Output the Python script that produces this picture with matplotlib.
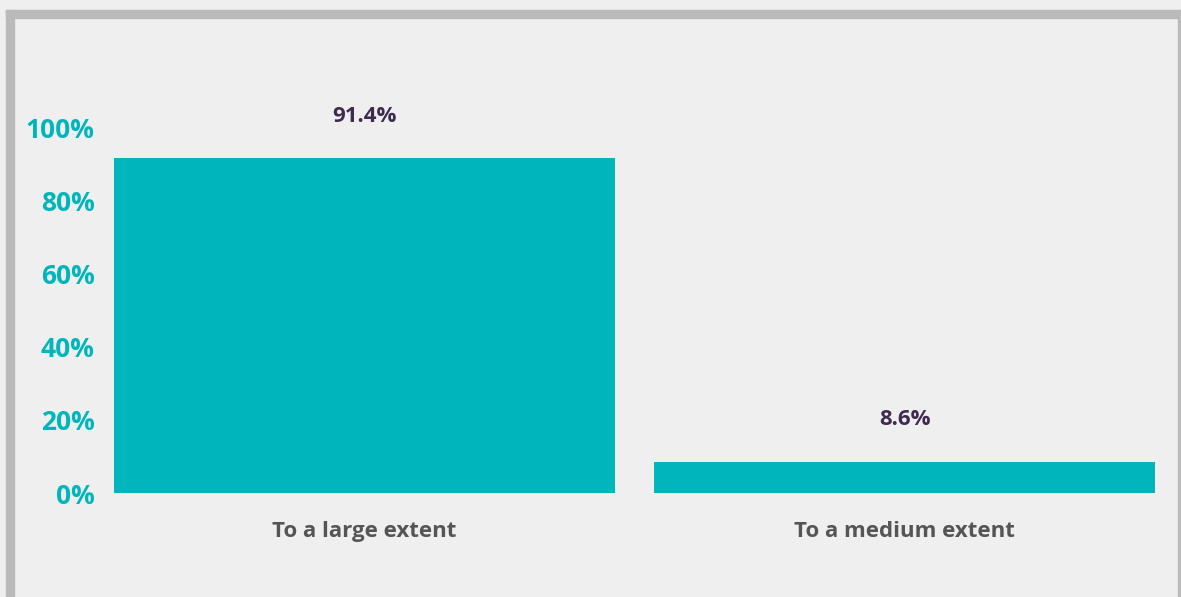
import matplotlib
matplotlib.use("Agg")
import matplotlib.pyplot as plt
from matplotlib.patches import Rectangle

categories = ["To a large extent", "To a medium extent"]
shares = [91.4, 8.6]
y_ticks = [0, 20, 40, 60, 80, 100]

TEAL = "#00b6bc"
BG = "#efefef"
FRAME = "#bababa"

plt.rcParams["font.family"] = ["Open Sans", "DejaVu Sans"]

W, H = 1181, 597
fig = plt.figure(figsize=(W / 100, H / 100), dpi=100, facecolor=BG)

# grey frame: thick top/left edges, thin right edge, open at the bottom
for x0, y0, w, h in [(6, 10, 8, 587), (6, 10, 1175, 8), (1178, 10, 3, 587)]:
    fig.patches.append(Rectangle((x0 / W, 1 - (y0 + h) / H), w / W, h / H,
                                 transform=fig.transFigure, color=FRAME, zorder=0))

ax = fig.add_axes([114 / W, (H - 493) / H, (1155 - 114) / W, 366 / H])
ax.set_facecolor(BG)

xs = range(len(categories))
width = 501 / 540.5
bars = ax.bar(xs, shares, width=width, color=TEAL)
ax.set_xlim(-width / 2, len(categories) - 1 + width / 2)
ax.set_ylim(0, 100)

for b, v in zip(bars, shares):
    ax.annotate(f"{v}%", (b.get_x() + b.get_width() / 2, v), xytext=(0, 42),
                textcoords="offset pixels", ha="center", va="center",
                fontsize=16, fontweight="bold", color="#3f2a50", annotation_clip=False)

ax.set_yticks(y_ticks)
ax.set_yticklabels([f"{t}%" for t in y_ticks], fontsize=19, fontweight="bold", color=TEAL)
ax.set_xticks(list(xs))
ax.set_xticklabels(categories, fontsize=16, fontweight="bold", color="#555555")
ax.tick_params(axis="both", length=0)
ax.tick_params(axis="y", pad=14)
ax.tick_params(axis="x", pad=20)
for s in ax.spines.values():
    s.set_visible(False)

fig.savefig("out.png", dpi=100, facecolor=BG)
